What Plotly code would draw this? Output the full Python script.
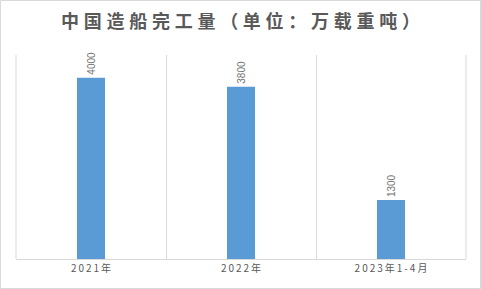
import plotly.graph_objects as go

categories = ["2021年", "2022年", "2023年1-4月"]
values = [4000, 3800, 1300]
labels = ["4000", "3800", "1300"]
title_text = "中国造船完工量（单位：万载重吨）"

def spaced(s, sep):
    return sep.join(list(s))

W, H = 481, 289
L, R, T, B = 16, 15, 55, 30
pw = W - L - R
ph = H - T - B

fig = go.Figure(go.Bar(
    x=categories, y=values, text=labels,
    textposition="outside", textangle=-90,
    textfont=dict(size=10, color="#737373", family="Liberation Sans, Arial"),
    marker=dict(color="#5b9bd5", line=dict(width=0)),
    cliponaxis=False,
))

fig.update_layout(
    width=W, height=H,
    margin=dict(l=L, r=R, t=T, b=B),
    paper_bgcolor="white", plot_bgcolor="white",
    bargap=0.813,
    showlegend=False,
    title=dict(text=spaced(title_text, "\u2009\u200a"), x=0.5, xanchor="center",
               y=1 - 22 / H, yanchor="middle",
               font=dict(size=18, color="#595959", family="Noto Sans CJK SC", weight="bold")),
    xaxis=dict(type="category", tickson="boundaries", showgrid=True, gridcolor="#d9d9d9",
               gridwidth=1, ticks="", showline=True, linecolor="#d9d9d9", linewidth=1,
               mirror=False, range=[-0.5, 2.5],
               tickvals=categories, ticktext=[spaced(c, "\u2009") for c in categories],
               tickfont=dict(size=10, color="#595959", family="Noto Sans CJK SC")),
    yaxis=dict(range=[0, 4500], showgrid=False, showticklabels=False, zeroline=False,
               showline=False, ticks=""),
    shapes=[
        dict(type="rect", xref="paper", yref="paper",
             x0=(-L + 0.5) / pw, x1=(pw + R - 0.5) / pw,
             y0=(-B + 0.5) / ph, y1=(ph + T - 0.5) / ph,
             line=dict(color="#d9d9d9", width=1), layer="below"),
        dict(type="line", xref="paper", yref="paper", x0=0, x1=0, y0=0, y1=1,
             line=dict(color="#d9d9d9", width=1)),
        dict(type="line", xref="paper", yref="paper", x0=1, x1=1, y0=0, y1=1,
             line=dict(color="#d9d9d9", width=1)),
    ],
)

fig.write_html("out.html")
